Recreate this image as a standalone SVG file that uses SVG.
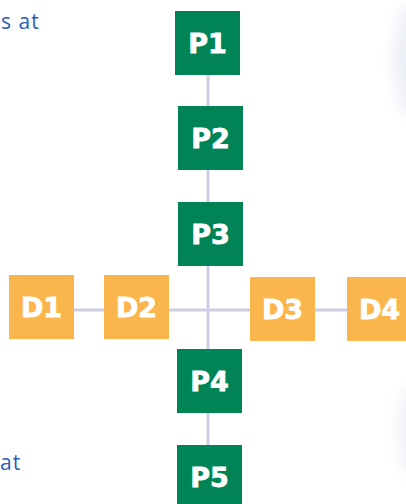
<svg xmlns="http://www.w3.org/2000/svg" width="406" height="504" viewBox="0 0 406 504">
  <defs>
    <filter id="blur" x="-100%" y="-50%" width="300%" height="200%">
      <feGaussianBlur stdDeviation="7"/>
    </filter>
    <style>
      .p rect { fill: #008456; }
      .d rect { fill: #FBB54D; }
      .lbl { font-family: "DejaVu Sans", "Liberation Sans", Arial, sans-serif; font-weight: bold; font-size: 27px; fill: #ffffff; stroke: #ffffff; stroke-width: 0.8; text-anchor: middle; }
      .cap { font-family: "Open Sans", "Liberation Sans", sans-serif; font-size: 21px; fill: #2d5eae; letter-spacing: 1px; }
      .conn line { stroke: #cdcde3; stroke-width: 3; }
    </style>
  </defs>
  <rect width="406" height="504" fill="#ffffff"/>
  <g id="background" opacity="0.35">
    <ellipse cx="410" cy="60" rx="16" ry="55" fill="#c9d0e4" filter="url(#blur)"/>
    <ellipse cx="410" cy="430" rx="12" ry="45" fill="#d3d8e8" filter="url(#blur)"/>
  </g>
  <text class="cap" x="1" y="29">s at</text>
  <text class="cap" x="0" y="470">at</text>
  <g id="connectors" class="conn">
    <line x1="208" y1="75" x2="208" y2="445"/>
    <line x1="74" y1="310" x2="347" y2="310"/>
  </g>
  <g id="P1" class="p"><rect x="175" y="11" width="65" height="64"/><text class="lbl" x="207.5" y="52.5">P1</text></g>
  <g id="P2" class="p"><rect x="178" y="106" width="65" height="64"/><text class="lbl" x="210.5" y="147.5">P2</text></g>
  <g id="P3" class="p"><rect x="178" y="202" width="65" height="64"/><text class="lbl" x="210.5" y="243.5">P3</text></g>
  <g id="D1" class="d"><rect x="9" y="275" width="65" height="64"/><text class="lbl" x="41.5" y="316.5">D1</text></g>
  <g id="D2" class="d"><rect x="104" y="275" width="65" height="64"/><text class="lbl" x="136.5" y="316.5">D2</text></g>
  <g id="D3" class="d"><rect x="250" y="277" width="65" height="64"/><text class="lbl" x="282.5" y="318.5">D3</text></g>
  <g id="D4" class="d"><rect x="347" y="277" width="65" height="64"/><text class="lbl" x="379.5" y="318.5">D4</text></g>
  <g id="P4" class="p"><rect x="177" y="349" width="65" height="64"/><text class="lbl" x="209.5" y="390.5">P4</text></g>
  <g id="P5" class="p"><rect x="177" y="445" width="65" height="64"/><text class="lbl" x="209.5" y="486.5">P5</text></g>
</svg>
